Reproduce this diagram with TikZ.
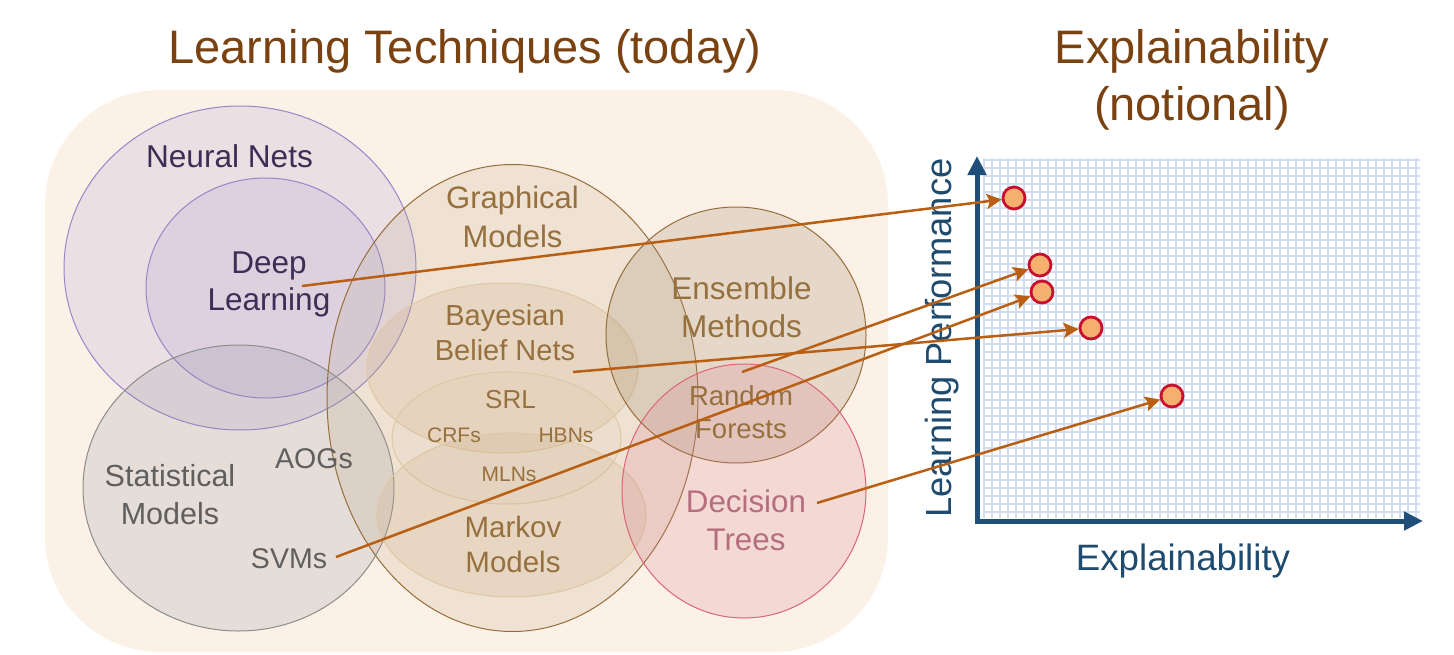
\documentclass[tikz,border=0pt]{standalone}
\usepackage{fontspec}
\setmainfont{Liberation Sans}
\usetikzlibrary{arrows.meta}
\definecolor{bgc}{RGB}{252,241,230}
\definecolor{titlec}{RGB}{122,66,16}
\definecolor{nnc}{RGB}{155,140,215}
\definecolor{nnline}{RGB}{150,135,200}
\definecolor{nntext}{RGB}{62,45,85}
\definecolor{statc}{RGB}{130,135,150}
\definecolor{statline}{RGB}{140,140,140}
\definecolor{stattext}{RGB}{95,95,95}
\definecolor{grc}{RGB}{180,160,130}
\definecolor{grline}{RGB}{150,110,60}
\definecolor{grtext}{RGB}{150,112,62}
\definecolor{bayc}{RGB}{200,170,130}
\definecolor{bayline}{RGB}{222,200,165}
\definecolor{ensc}{RGB}{160,140,110}
\definecolor{dtc}{RGB}{215,120,140}
\definecolor{dtline}{RGB}{220,100,120}
\definecolor{dttext}{RGB}{180,110,125}
\definecolor{axisc}{RGB}{31,78,121}
\definecolor{axtext}{RGB}{30,75,110}
\definecolor{gridc}{RGB}{210,221,241}
\definecolor{connc}{RGB}{185,95,20}
\definecolor{dotfill}{RGB}{245,176,112}
\definecolor{dotline}{RGB}{200,16,46}
\newcommand\twoline[2]{\begin{tabular}[t]{@{}c@{}}#1\\#2\end{tabular}}
\begin{document}
\begin{tikzpicture}[x=1pt,y=-1pt,
  lbl/.style={anchor=base, inner sep=0pt},
  setline/.style={line width=1pt},
  conn/.style={draw=connc, line width=2.5pt, -{Stealth[length=15pt,width=15pt,inset=3pt]}},
  dot/.style={circle, minimum size=22pt, inner sep=0pt, fill=dotfill, draw=dotline, line width=2.8pt},
  axisline/.style={draw=axisc, line width=5pt, line join=miter, {Triangle[length=19pt,width=18pt]}-{Triangle[length=19pt,width=18pt]}}
]
\useasboundingbox (0,0) rectangle (1454,654);
\fill[white] (0,0) rectangle (1454,654);
% titles
\node[lbl, text=titlec, font=\fontsize{47}{56}\selectfont] (t1) at (465,63) {Learning Techniques (today)};
\node[lbl, text=titlec, font=\fontsize{47}{57}\selectfont] (t2) at (1192,63) {\twoline{Explainability}{(notional)}};
% background
\fill[bgc, rounded corners=115pt] (45,90) rectangle (888,652);
% sets
\path[fill=nnc, fill opacity=0.17, draw=nnline, setline] (240,268) ellipse [x radius=176pt, y radius=162pt];
\path[fill=nnc, fill opacity=0.17, draw=nnline, setline] (265.5,288) ellipse [x radius=119.5pt, y radius=110pt];
\path[fill=statc, fill opacity=0.18, draw=statline, setline] (238.5,488) ellipse [x radius=155.5pt, y radius=143pt];
\path[fill=grc, fill opacity=0.18, draw=grline, setline] (512.5,398) ellipse [x radius=185.5pt, y radius=233.5pt];
\path[fill=bayc, fill opacity=0.2, draw=bayline, setline] (502.5,368) ellipse [x radius=135.5pt, y radius=85pt];
\path[fill=bayc, fill opacity=0.06, draw=bayline, setline] (506.5,438) ellipse [x radius=114.5pt, y radius=66pt];
\path[fill=bayc, fill opacity=0.2, draw=bayline, setline] (511.5,515) ellipse [x radius=134.5pt, y radius=82pt];
\path[fill=ensc, fill opacity=0.24, draw=grline, setline] (736,335) ellipse [x radius=130pt, y radius=128pt];
\path[fill=dtc, fill opacity=0.2, draw=dtline, setline] (744,491) ellipse [x radius=122pt, y radius=127pt];
% labels
\node[lbl, text=nntext, font=\fontsize{31.6}{37}\selectfont] (nn) at (229.5,167) {Neural Nets};
\node[lbl, text=nntext, font=\fontsize{31.5}{37}\selectfont] (dl) at (269,273) {\twoline{Deep}{Learning}};
\node[lbl, text=grtext, font=\fontsize{31}{39}\selectfont] (gm) at (512.5,208) {\twoline{Graphical}{Models}};
\node[lbl, text=grtext, font=\fontsize{29}{35}\selectfont] (bbn) at (505,325) {\twoline{Bayesian}{Belief Nets}};
\node[lbl, text=grtext, font=\fontsize{26}{31}\selectfont] (srl) at (510.5,408) {SRL};
\node[lbl, text=grtext, font=\fontsize{21}{25}\selectfont] (crf) at (454,442) {CRFs};
\node[lbl, text=grtext, font=\fontsize{21}{25}\selectfont] (hbn) at (566,442) {HBNs};
\node[lbl, text=grtext, font=\fontsize{21}{25}\selectfont] (mln) at (509,481) {MLNs};
\node[lbl, text=grtext, font=\fontsize{29.5}{35}\selectfont] (mm) at (513,537) {\twoline{Markov}{Models}};
\node[lbl, text=stattext, font=\fontsize{30.5}{38}\selectfont] (sm) at (170,486) {\twoline{Statistical}{Models}};
\node[lbl, text=stattext, font=\fontsize{28.5}{34}\selectfont] (aog) at (314,468) {AOGs};
\node[lbl, text=stattext, font=\fontsize{28.5}{34}\selectfont] (svm) at (289,568) {SVMs};
\node[lbl, text=grtext, font=\fontsize{31.5}{38}\selectfont] (em) at (741.5,299) {\twoline{Ensemble}{Methods}};
\node[lbl, text=grtext, font=\fontsize{27.5}{33}\selectfont] (rf) at (741,405) {\twoline{Random}{Forests}};
\node[lbl, text=dttext, font=\fontsize{31.3}{38}\selectfont] (dt) at (746,512) {\twoline{Decision}{Trees}};
% chart
\draw[gridc, line width=2pt, step=8pt] (984,158) grid (1420,518);
\coordinate (ytop) at (977,156);
\coordinate (orig) at (977,521);
\coordinate (xend) at (1423,521);
\path[axisline] (ytop) -- (orig) -- (xend);
\node[lbl, rotate=90, text=axtext, font=\fontsize{36.3}{43}\selectfont] (yl) at (951,338) {Learning Performance};
\node[lbl, text=axtext, font=\fontsize{36.7}{43}\selectfont] (xl) at (1183,570) {Explainability};
% dots
\node[dot] (d1) at (1014,198) {};
\node[dot] (d2) at (1040,265) {};
\node[dot] (d3) at (1042,292) {};
\node[dot] (d4) at (1091,328) {};
\node[dot] (d5) at (1172,396) {};
% connectors
\coordinate (dlo) at (302,286);
\coordinate (bbno) at (573,372);
\coordinate (rfo) at (742,372);
\coordinate (svmo) at (336,557);
\coordinate (dto) at (817,503);
\draw[conn] (dlo) -- (d1);
\draw[conn] (bbno) -- (d4);
\draw[conn] (rfo) -- (d2);
\draw[conn] (svmo) -- (d3);
\draw[conn] (dto) -- (d5);
\end{tikzpicture}
\end{document}
